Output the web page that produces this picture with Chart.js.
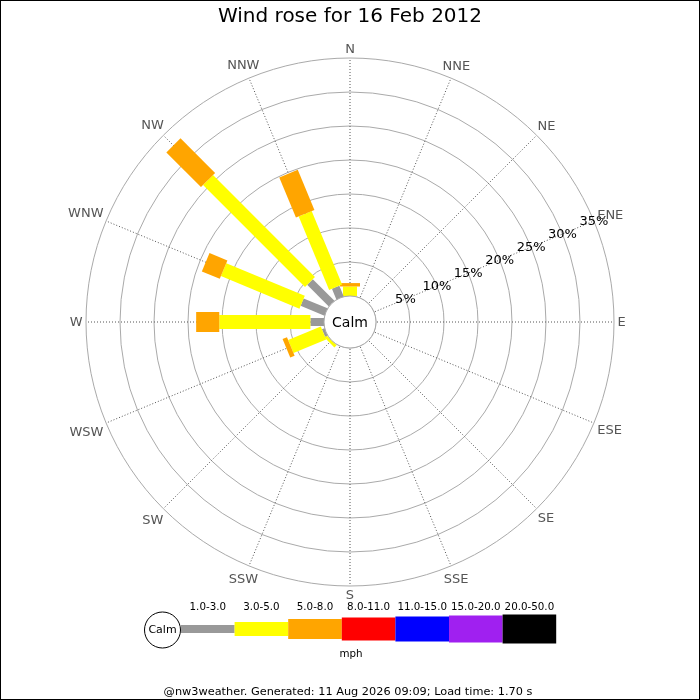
<!DOCTYPE html>
<html>
<head>
<meta charset="utf-8">
<title>Wind rose for 16 Feb 2012</title>
<script src="https://cdn.jsdelivr.net/npm/chart.js@4.4.1/dist/chart.umd.min.js"></script>
<style>
  html, body { margin: 0; padding: 0; background: #fff; }
  #wrap { width: 700px; height: 700px; }
</style>
</head>
<body>
<div id="wrap"><canvas id="roseChart" width="700" height="700"></canvas></div>
<script>
// compass sectors, clockwise from north
const directions = ["N", "NNE", "NE", "ENE", "E", "ESE", "SE", "SSE",
                    "S", "SSW", "SW", "WSW", "W", "WNW", "NW", "NNW"];

// % of the day in each sector, per speed band
const speed1to3 = [0, 0, 0, 0, 0, 0, 0, 0, 0, 0, 0,    0.4, 2.0, 3.8,  4.5,  1.7];
const speed3to5 = [1.4, 0, 0, 0, 0, 0, 0, 0, 0, 0, 0.45, 5.2, 13.4, 12.5, 21.2, 11.7];
const speed5to8 = [0.5, 0, 0, 0, 0, 0, 0, 0, 0, 0, 0,    0.7, 3.4, 2.85, 7.2,  6.4];

// legend bands (mph)
const speedBands = ["1.0-3.0", "3.0-5.0", "5.0-8.0", "8.0-11.0", "11.0-15.0", "15.0-20.0", "20.0-50.0"];
const bandColors = ["#999999", "#ffff00", "#ffa500", "#ff0000", "#0000ff", "#a020f0", "#000000"];
const bandWidths = [8, 14, 20, 23, 25, 27, 29];

const ringTicks = [0, 5, 10, 15, 20, 25, 30, 35];

// the calm circle sits inside the 0% ring, so the axis starts below zero
const calmOffset = -3.8235;

const FONT = "'DejaVu Sans', sans-serif";

const windRose = {
  id: "windRose",
  beforeDraw(chart) {
    const ctx = chart.ctx;
    ctx.save();
    ctx.fillStyle = "#fff";
    ctx.fillRect(0, 0, chart.width, chart.height);
    ctx.restore();
  },
  afterDatasetsDraw(chart) {
    const ctx = chart.ctx;
    const scale = chart.scales.r;
    const cx = scale.xCenter, cy = scale.yCenter;

    // stacked bars along each spoke
    ctx.save();
    ctx.lineCap = "butt";
    directions.forEach((d, i) => {
      let cum = 0;
      chart.data.datasets.forEach((ds) => {
        const v = ds.data[i];
        if (!v) return;
        const p0 = scale.getPointPositionForValue(i, cum);
        cum += v;
        const p1 = scale.getPointPositionForValue(i, cum);
        ctx.strokeStyle = ds.backgroundColor;
        ctx.lineWidth = ds.barThickness;
        ctx.beginPath();
        ctx.moveTo(p0.x, p0.y);
        ctx.lineTo(p1.x, p1.y);
        ctx.stroke();
      });
    });
    ctx.restore();

    // calm circle
    const calmR = scale.getDistanceFromCenterForValue(0);
    ctx.save();
    ctx.beginPath();
    ctx.arc(cx, cy, calmR, 0, Math.PI * 2);
    ctx.fillStyle = "#fff";
    ctx.fill();
    ctx.strokeStyle = "#aaaaaa";
    ctx.lineWidth = 1;
    ctx.stroke();
    ctx.fillStyle = "#000";
    ctx.font = "14px " + FONT;
    ctx.textAlign = "center";
    ctx.textBaseline = "middle";
    ctx.fillText("Calm", cx, cy + 1);

    // ring labels along the ENE spoke
    ctx.font = "13px " + FONT;
    ringTicks.forEach((t) => {
      if (t === 0) return;
      const p = scale.getPointPositionForValue(3, t);
      ctx.fillText(t + "%", p.x, p.y + 1);
    });

    // compass labels
    ctx.fillStyle = "#555";
    const outer = scale.drawingArea;
    directions.forEach((d, i) => {
      const a = (i * Math.PI * 2) / directions.length;
      const w = ctx.measureText(d).width;
      const ext = Math.abs(Math.sin(a)) * w / 2 + Math.abs(Math.cos(a)) * 5.5;
      const p = scale.getPointPosition(i, outer + 3.5 + ext);
      ctx.fillText(d, p.x, p.y + 1);
    });
    ctx.restore();
  },
  afterDraw(chart) {
    const ctx = chart.ctx;
    ctx.save();

    // speed legend
    const x0 = 181, segW = 53.6, midY = 629;
    ctx.beginPath();
    ctx.arc(162.5, midY + 1, 18, 0, Math.PI * 2);
    ctx.fillStyle = "#fff";
    ctx.fill();
    ctx.strokeStyle = "#000";
    ctx.lineWidth = 1;
    ctx.stroke();
    ctx.fillStyle = "#000";
    ctx.font = "11px " + FONT;
    ctx.textAlign = "center";
    ctx.textBaseline = "middle";
    ctx.fillText("Calm", 162.5, midY + 1);

    ctx.font = "10.3px " + FONT;
    speedBands.forEach((label, k) => {
      const x = x0 + k * segW;
      const h = bandWidths[k];
      ctx.fillStyle = bandColors[k];
      ctx.fillRect(x, midY - h / 2, segW, h);
      ctx.fillStyle = "#000";
      ctx.fillText(label, x + segW / 2, 607);
    });
    ctx.fillText("mph", 351, 654);

    // footer
    ctx.font = "11.3px " + FONT;
    ctx.fillText("@nw3weather. Generated: 11 Aug 2026 09:09; Load time: 1.70 s", 348, 692);

    // frame
    ctx.strokeStyle = "#000";
    ctx.lineWidth = 1;
    ctx.strokeRect(0.5, 0.5, chart.width - 1, chart.height - 1);
    ctx.restore();
  }
};

const bandDataset = (label, values, k) => ({
  label: label,
  data: values,
  backgroundColor: bandColors[k],
  barThickness: bandWidths[k],
  borderWidth: 0,
  borderColor: "rgba(0,0,0,0)",
  pointRadius: 0,
  fill: false,
  showLine: false
});

Chart.defaults.font.family = FONT;

new Chart(document.getElementById("roseChart"), {
  type: "radar",
  data: {
    labels: directions,
    datasets: [
      bandDataset(speedBands[0], speed1to3, 0),
      bandDataset(speedBands[1], speed3to5, 1),
      bandDataset(speedBands[2], speed5to8, 2)
    ]
  },
  options: {
    responsive: false,
    animation: false,
    devicePixelRatio: 1,
    events: [],
    layout: {
      padding: { left: 86, right: 86, top: 0, bottom: 114 }
    },
    plugins: {
      legend: { display: false },
      tooltip: { enabled: false },
      title: {
        display: true,
        text: "Wind rose for 16 Feb 2012",
        color: "#000",
        font: { size: 20, weight: "normal", family: FONT },
        padding: { top: 5, bottom: 29 }
      }
    },
    scales: {
      r: {
        min: calmOffset,
        max: 35,
        startAngle: 0,
        afterBuildTicks: (scale) => {
          scale.ticks = ringTicks.map((v) => ({ value: v }));
        },
        ticks: { display: false },
        pointLabels: { display: false },
        grid: { circular: true, color: "#aaaaaa", lineWidth: 1 },
        angleLines: { color: "#555555", lineWidth: 1, borderDash: [1, 2] }
      }
    }
  },
  plugins: [windRose]
});
</script>
</body>
</html>
